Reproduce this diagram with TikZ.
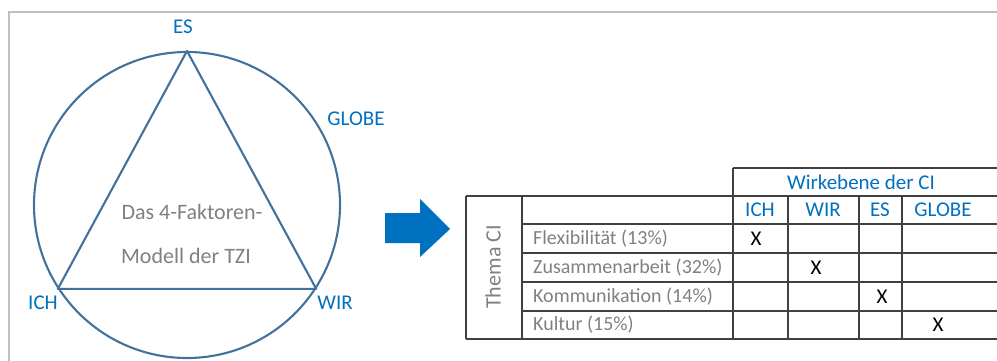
\documentclass[tikz,border=0pt]{standalone}
\usepackage{fontspec}
\setmainfont{Carlito}
\usetikzlibrary{arrows.meta,positioning}
\definecolor{tziblue}{RGB}{0,112,192}
\definecolor{tziline}{RGB}{65,113,156}
\definecolor{tzigray}{RGB}{128,128,128}

\begin{document}
\begin{tikzpicture}[x=1pt,y=-1pt,every node/.style={font=\fontsize{21}{24}\selectfont,inner sep=0pt},
  lbl/.style={text=tziblue},grey/.style={text=tzigray},grid/.style={line width=1.1pt,black!75}]
\useasboundingbox (0,0) rectangle (997,361);
\draw[black!25,line width=1.2pt] (9,361)--(9,12)--(997,12);
% circle with triangle
\node[circle,draw=tziline,line width=2.1pt,minimum size=306pt] (circ) at (187,205) {};
\coordinate (es) at (circ.90);
\coordinate (ich) at (circ.213);
\coordinate (wir) at (circ.-33);
\draw[tziline,line width=2.1pt,line join=round] (es)--(ich)--(wir)--cycle;
\node[lbl] (esl) at (183,27) {ES};
\node[lbl] (globel) at (356,119) {GLOBE};
\node[lbl] (ichl) at (43,303) {ICH};
\node[lbl] (wirl) at (335,303) {WIR};
\node[grey,font=\fontsize{22}{26}\selectfont] (tzi1) at (192,212) {Das 4-Faktoren-};
\node[grey,font=\fontsize{22}{26}\selectfont] (tzi2) at (186,256) {Modell der TZI};
% arrow
\fill[tziblue] (385,213)--(420,213)--(420,199)--(450,229)--(420,257)--(420,243)--(385,243)--cycle;
% table
\draw[grid] (733,168)--(997,168);
\draw[grid] (466,196)--(997,196);
\foreach \y in {224,253,282,311} \draw[grid] (522,\y)--(997,\y);
\draw[grid] (466,339)--(997,339);
\draw[grid] (466,196)--(466,339);
\draw[grid] (522,196)--(522,339);
\draw[grid] (733,168)--(733,339);
\foreach \x in {788,859,902} \draw[grid] (\x,196)--(\x,339);
\node[lbl] (wirk) at (861,182) {Wirkebene der CI};
\node[lbl] (hich) at (760,210) {ICH};
\node[lbl] (hwir) at (823,210) {WIR};
\node[lbl] (hes) at (880,210) {ES};
\node[lbl] (hglobe) at (943,210) {GLOBE};
\node[grey,rotate=90,font=\fontsize{22}{26}\selectfont] (thema) at (493,267) {Thema CI};
\foreach \y/\txt/\xx [count=\i] in {239/Flexibilität (13\%)/756,268/Zusammenarbeit (32\%)/816,297/Kommunikation (14\%)/882,325/Kultur (15\%)/938}{
  \node[grey,anchor=west,font=\fontsize{20}{24}\selectfont] (row\i) at (533,\y) {\txt};
  \node (x\i) at (\xx,\y) {X};
}
\end{tikzpicture}
\end{document}
